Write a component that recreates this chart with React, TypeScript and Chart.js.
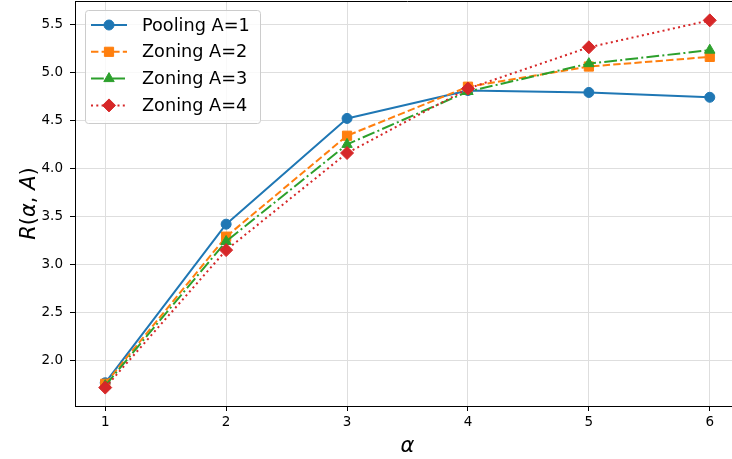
import React, { useEffect, useRef } from "react";
import { Chart, registerables } from "chart.js";

Chart.register(...registerables);

const alphas = [1, 2, 3, 4, 5, 6];
const pooling1 = [1.77, 3.42, 4.52, 4.81, 4.79, 4.74];
const zoning2 = [1.76, 3.29, 4.34, 4.85, 5.06, 5.16];
const zoning3 = [1.74, 3.24, 4.25, 4.80, 5.09, 5.23];
const zoning4 = [1.72, 3.15, 4.16, 4.83, 5.26, 5.54];
const seriesLabels = ["Pooling A=1", "Zoning A=2", "Zoning A=3", "Zoning A=4"];
const xTicks = [1, 2, 3, 4, 5, 6];
const yTicks = [2.0, 2.5, 3.0, 3.5, 4.0, 4.5, 5.0, 5.5];

const FONT = "'DejaVu Sans', sans-serif";

function drawMarker(ctx: CanvasRenderingContext2D, style: string, x: number, y: number, r: number, color: string) {
  ctx.save();
  ctx.fillStyle = color;
  ctx.strokeStyle = color;
  ctx.lineWidth = 1;
  ctx.setLineDash([]);
  ctx.beginPath();
  if (style === "circle") {
    ctx.arc(x, y, r, 0, Math.PI * 2);
  } else if (style === "rect") {
    const s = Math.SQRT1_2 * r;
    ctx.rect(x - s, y - s, 2 * s, 2 * s);
  } else if (style === "triangle") {
    for (let k = 0; k < 3; k++) {
      const a = (k * 2 * Math.PI) / 3;
      const px = x + Math.sin(a) * r;
      const py = y - Math.cos(a) * r;
      if (k === 0) ctx.moveTo(px, py);
      else ctx.lineTo(px, py);
    }
    ctx.closePath();
  } else {
    ctx.moveTo(x - r, y);
    ctx.lineTo(x, y - r);
    ctx.lineTo(x + r, y);
    ctx.lineTo(x, y + r);
    ctx.closePath();
  }
  ctx.fill();
  ctx.stroke();
  ctx.restore();
}

const decorPlugin = {
  id: "decor",
  afterDraw(chart: any) {
    const ctx: CanvasRenderingContext2D = chart.ctx;
    const area = chart.chartArea;
    ctx.save();
    // top spine
    ctx.strokeStyle = "#000";
    ctx.lineWidth = 1;
    ctx.beginPath();
    ctx.moveTo(area.left, Math.round(area.top) + 0.5);
    ctx.lineTo(area.right, Math.round(area.top) + 0.5);
    ctx.stroke();

    // legend
    const lx = 85, ly = 10, lw = 175, lh = 113;
    ctx.beginPath();
    (ctx as any).roundRect(lx + 0.5, ly + 0.5, lw, lh, 3);
    ctx.fillStyle = "rgba(255,255,255,0.8)";
    ctx.fill();
    ctx.strokeStyle = "#cccccc";
    ctx.lineWidth = 1;
    ctx.stroke();
    chart.data.datasets.forEach((ds: any, i: number) => {
      const y = 25 + i * 26.8;
      ctx.save();
      ctx.strokeStyle = ds.borderColor;
      ctx.lineWidth = ds.borderWidth;
      ctx.setLineDash(ds.borderDash || []);
      ctx.beginPath();
      ctx.moveTo(91, y);
      ctx.lineTo(127, y);
      ctx.stroke();
      ctx.restore();
      drawMarker(ctx, ds.pointStyle, 109, y, ds.pointRadius, ds.backgroundColor);
      ctx.fillStyle = "#000";
      ctx.font = `17.7px ${FONT}`;
      ctx.textBaseline = "middle";
      ctx.textAlign = "left";
      ctx.fillText(ds.label, 142, y + 1);
    });

    // x label
    ctx.fillStyle = "#000";
    ctx.textAlign = "center";
    ctx.textBaseline = "alphabetic";
    ctx.font = `italic 21px ${FONT}`;
    ctx.fillText("α", (area.left + area.right) / 2, 452);

    // y label, mixed italic / upright
    const parts: [string, boolean][] = [
      ["R", true], ["(", false], ["α", true], [",", false], [" ", false], ["A", true], [")", false],
    ];
    const fontFor = (it: boolean) => `${it ? "italic " : ""}21px ${FONT}`;
    let total = 0;
    const widths = parts.map(([t, it]) => {
      ctx.font = fontFor(it);
      const w = ctx.measureText(t).width;
      total += w;
      return w;
    });
    ctx.save();
    ctx.translate(35, (area.top + area.bottom) / 2);
    ctx.rotate(-Math.PI / 2);
    ctx.textAlign = "left";
    let cx = -total / 2;
    parts.forEach(([t, it], k) => {
      ctx.font = fontFor(it);
      ctx.fillText(t, cx, 0);
      cx += widths[k];
    });
    ctx.restore();
    ctx.restore();
  },
};

export default function App() {
  const ref = useRef<HTMLCanvasElement | null>(null);
  useEffect(() => {
    if (!ref.current) return;
    Chart.defaults.font.family = FONT;
    const mk = (vals: number[]) => alphas.map((a, i) => ({ x: a, y: vals[i] }));
    const chart = new Chart(ref.current, {
      type: "line",
      data: {
        datasets: [
          {
            label: seriesLabels[0], data: mk(pooling1), borderColor: "#1f77b4", backgroundColor: "#1f77b4",
            borderWidth: 2, pointStyle: "circle", pointRadius: 5, pointBorderWidth: 1, order: 3,
            borderDash: [], borderJoinStyle: "round",
          },
          {
            label: seriesLabels[1], data: mk(zoning2), borderColor: "#ff7f0e", backgroundColor: "#ff7f0e",
            borderWidth: 2, pointStyle: "rect", pointRadius: 6.5, pointBorderWidth: 1, order: 2,
            borderDash: [7.4, 3.2], borderJoinStyle: "round",
          },
          {
            label: seriesLabels[2], data: mk(zoning3), borderColor: "#2ca02c", backgroundColor: "#2ca02c",
            borderWidth: 2, pointStyle: "triangle", pointRadius: 6, pointBorderWidth: 1, order: 1,
            borderDash: [12.8, 3.2, 2, 3.2], borderJoinStyle: "round",
          },
          {
            label: seriesLabels[3], data: mk(zoning4), borderColor: "#d62728", backgroundColor: "#d62728",
            borderWidth: 2, pointStyle: "rectRot", pointRadius: 6.5, pointBorderWidth: 1, order: 0,
            borderDash: [2, 3.3], borderJoinStyle: "round",
          },
        ] as any,
      },
      options: {
        responsive: false,
        animation: false,
        events: [],
        layout: { autoPadding: false, padding: { top: 1, left: 0, right: 0, bottom: 0 } },
        plugins: { legend: { display: false }, tooltip: { enabled: false } },
        scales: {
          x: {
            type: "linear",
            min: 0.75,
            max: 6.25,
            afterBuildTicks: (s: any) => { s.ticks = xTicks.map((v) => ({ value: v })); },
            afterFit: (s: any) => { s.height = 53; s.paddingLeft = 0; s.paddingRight = 0; },
            grid: { color: "#dedede", lineWidth: 1, tickColor: "#000", tickLength: 5, drawOnChartArea: true },
            border: { display: true, color: "#000", width: 1 },
            ticks: { color: "#000", font: { size: 13.5, family: FONT }, padding: 3, maxRotation: 0, callback: (v: any) => String(v) },
          },
          y: {
            type: "linear",
            min: 1.5285,
            max: 5.7415,
            afterBuildTicks: (s: any) => { s.ticks = yTicks.map((v) => ({ value: v })); },
            afterFit: (s: any) => { s.width = 75; s.paddingTop = 0; s.paddingBottom = 0; },
            grid: { color: "#dedede", lineWidth: 1, tickColor: "#000", tickLength: 5, drawOnChartArea: true },
            border: { display: true, color: "#000", width: 1 },
            ticks: { color: "#000", font: { size: 13.5, family: FONT }, padding: 7, callback: (v: any) => Number(v).toFixed(1) },
          },
        },
      } as any,
      plugins: [decorPlugin],
    });
    return () => chart.destroy();
  }, []);
  return (
    <div style={{ position: "fixed", left: 0, top: 0, width: 732, height: 459, overflow: "hidden", background: "#fff" }}>
      <div style={{ width: 740, height: 459 }}>
        <canvas ref={ref} width={740} height={459} style={{ display: "block" }} />
      </div>
    </div>
  );
}
